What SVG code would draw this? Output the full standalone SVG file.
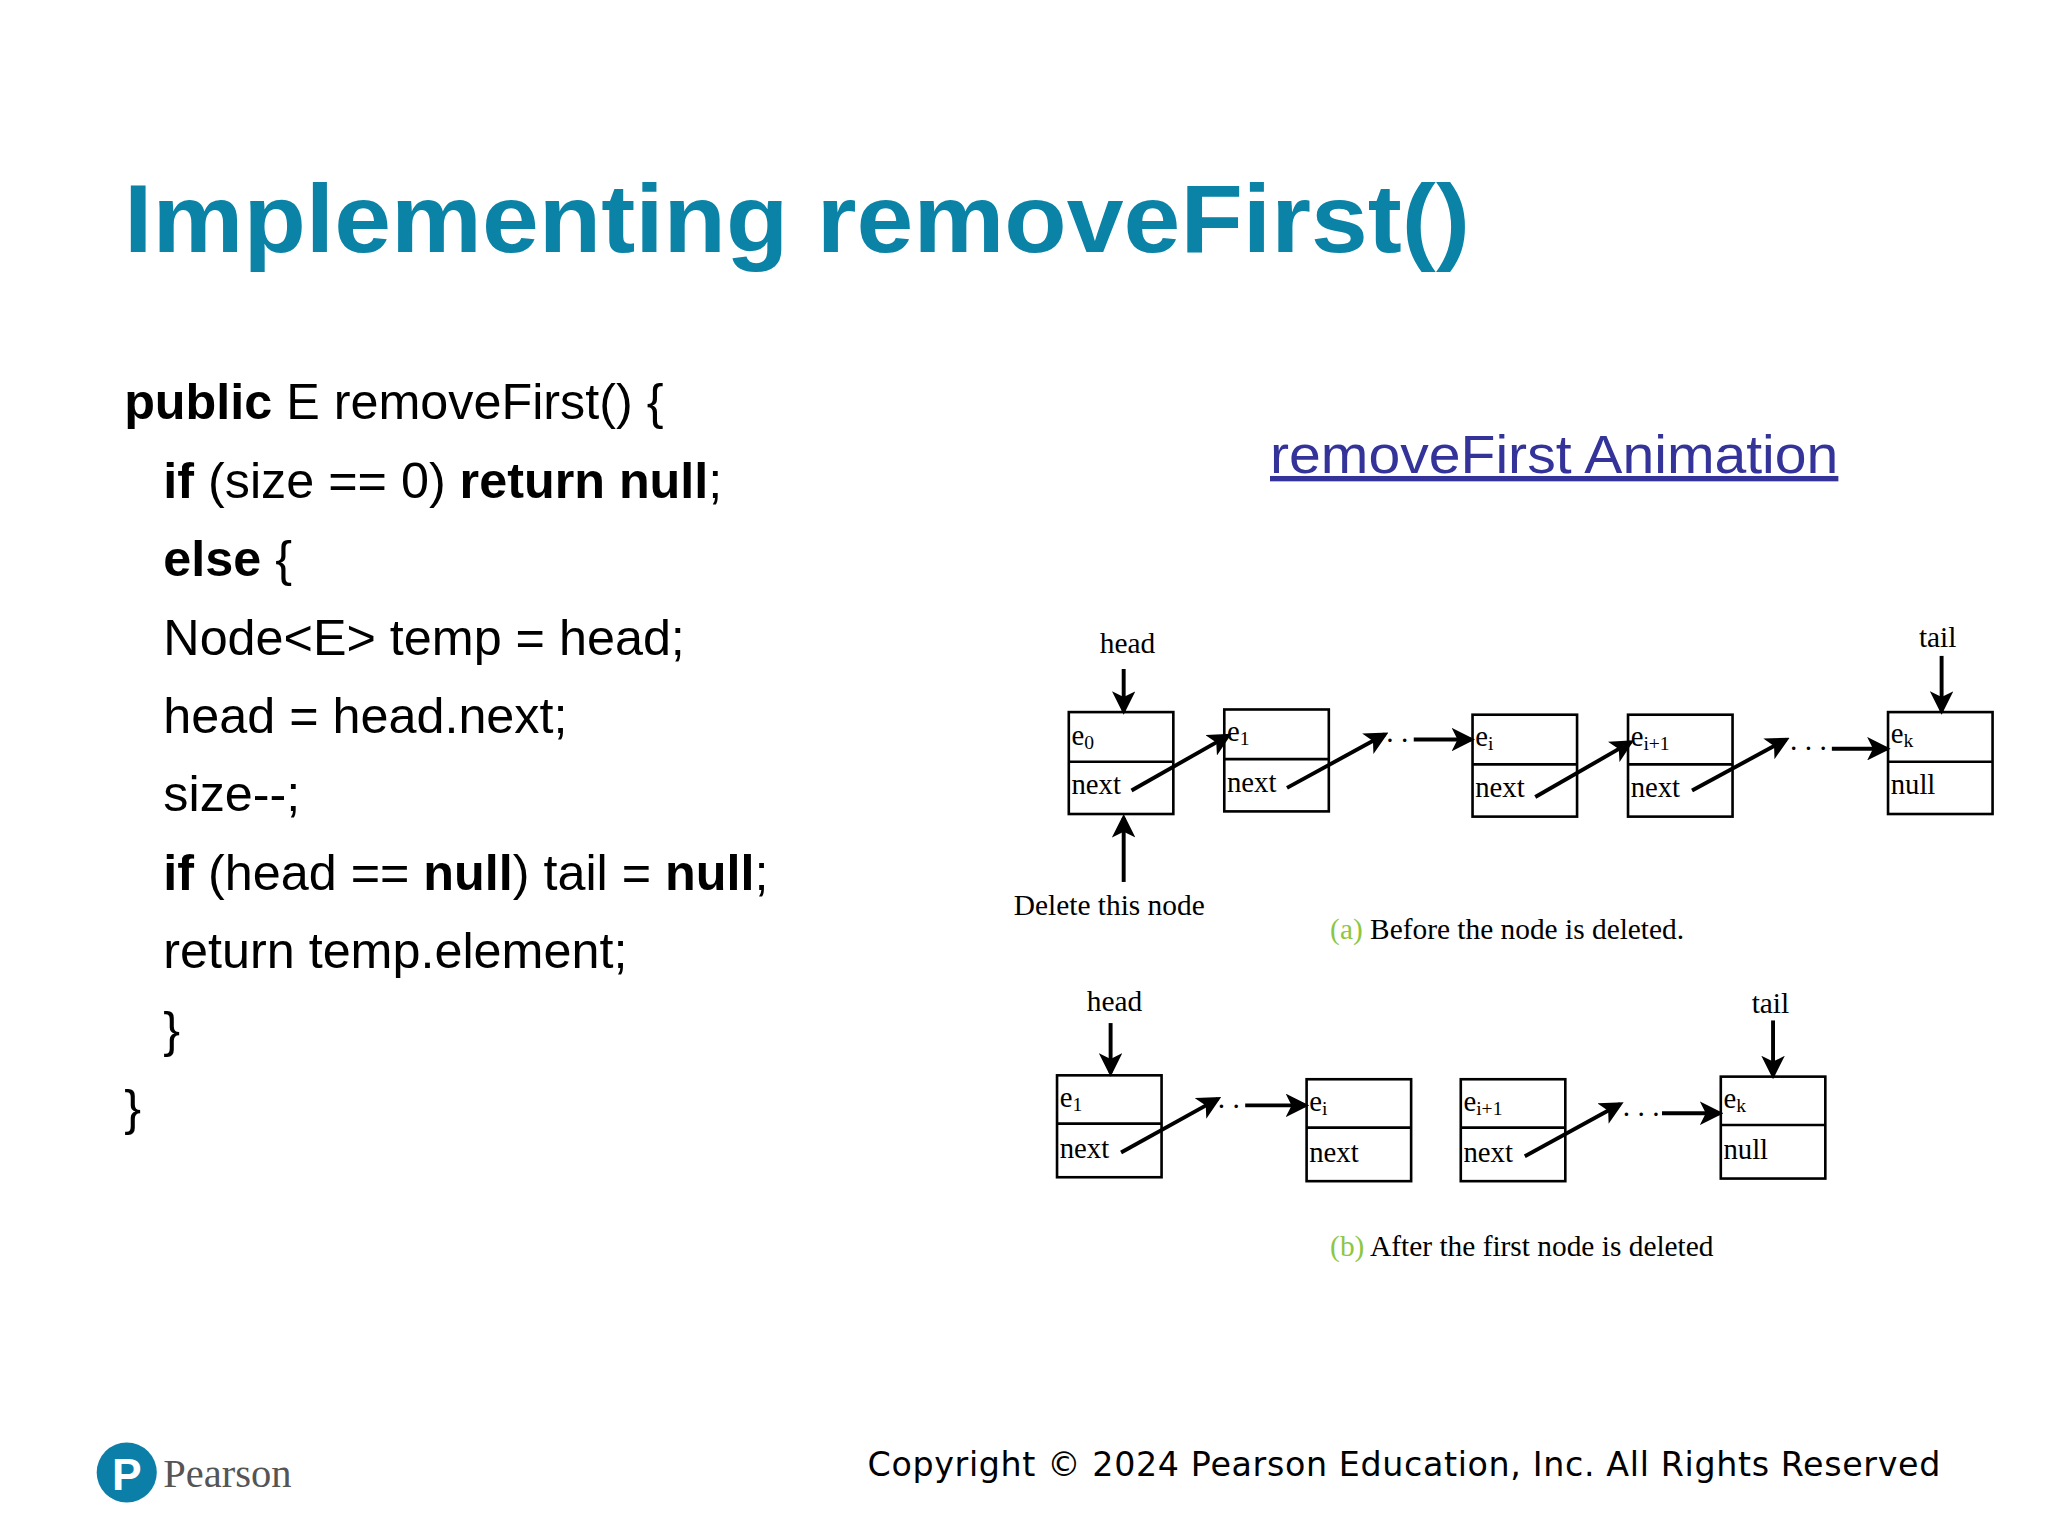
<svg xmlns="http://www.w3.org/2000/svg" width="2048" height="1536" viewBox="0 0 2048 1536">
<defs>
<marker id="ah" markerWidth="6" markerHeight="6" refX="5" refY="3" orient="auto" markerUnits="strokeWidth"><path d="M0,0 L6,3 L0,6 L1.5,3 Z" fill="#000"/></marker>
<style>
.code{font-family:"Liberation Sans",Arial,sans-serif;font-size:38.5px;fill:#000}
.b{font-weight:bold}
.s{font-family:"Liberation Serif","Times New Roman",serif;fill:#000}
.lbl{font-size:22.5px}
.el{font-size:22px}
.sub{font-size:15px}
.box{fill:#fff;stroke:#000;stroke-width:2}
.ar{stroke:#000;stroke-width:3;fill:none;marker-end:url(#ah)}
.g{fill:#8dc63f}
</style>
</defs>
<rect width="2048" height="1536" fill="#fff"/>
<g transform="scale(1.3066)">
<text x="95" y="193" font-family="Liberation Sans,Arial,sans-serif" font-weight="bold" font-size="74" fill="#0a83a6" textLength="1030" lengthAdjust="spacingAndGlyphs">Implementing removeFirst()</text>
<g id="code">
<text class="code" x="95" y="321"><tspan class="b">public</tspan> E removeFirst() {</text>
<text class="code" x="125" y="381"><tspan class="b">if</tspan> (size == 0) <tspan class="b">return null</tspan>;</text>
<text class="code" x="125" y="441"><tspan class="b">else</tspan> {</text>
<text class="code" x="125" y="501">Node&lt;E&gt; temp = head;</text>
<text class="code" x="125" y="561">head = head.next;</text>
<text class="code" x="125" y="621">size--;</text>
<text class="code" x="125" y="681"><tspan class="b">if</tspan> (head == <tspan class="b">null</tspan>) tail = <tspan class="b">null</tspan>;</text>
<text class="code" x="125" y="741">return temp.element;</text>
<text class="code" x="125" y="801">}</text>
<text class="code" x="95" y="861">}</text>
</g>
<g id="link">
<text x="972" y="362" font-family="Liberation Sans,Arial,sans-serif" font-size="41" fill="#333399" text-decoration="underline" textLength="435" lengthAdjust="spacingAndGlyphs">removeFirst Animation</text>
</g>
<g id="a-nodes">
<g id="a-e0"><rect class="box" x="818" y="545" width="80" height="78"/><line x1="818" y1="583" x2="898" y2="583" stroke="#000" stroke-width="2"/><text class="s el" x="820" y="570">e<tspan class="sub" dy="3">0</tspan></text><text class="s el" x="820" y="608">next</text></g>
<g id="a-e1"><rect class="box" x="937" y="543" width="80" height="78"/><line x1="937" y1="581" x2="1017" y2="581" stroke="#000" stroke-width="2"/><text class="s el" x="939" y="567">e<tspan class="sub" dy="3">1</tspan></text><text class="s el" x="939" y="606">next</text></g>
<g id="a-ei"><rect class="box" x="1127" y="547" width="80" height="78"/><line x1="1127" y1="585" x2="1207" y2="585" stroke="#000" stroke-width="2"/><text class="s el" x="1129" y="571">e<tspan class="sub" dy="3">i</tspan></text><text class="s el" x="1129" y="610">next</text></g>
<g id="a-ei1"><rect class="box" x="1246" y="547" width="80" height="78"/><line x1="1246" y1="585" x2="1326" y2="585" stroke="#000" stroke-width="2"/><text class="s el" x="1248" y="571">e<tspan class="sub" dy="3">i+1</tspan></text><text class="s el" x="1248" y="610">next</text></g>
<g id="a-ek"><rect class="box" x="1445" y="545" width="80" height="78"/><line x1="1445" y1="583" x2="1525" y2="583" stroke="#000" stroke-width="2"/><text class="s el" x="1447" y="569">e<tspan class="sub" dy="3">k</tspan></text><text class="s el" x="1447" y="608">null</text></g>
</g>
<g id="b-nodes">
<g id="b-e1"><rect class="box" x="809" y="823" width="80" height="78"/><line x1="809" y1="860" x2="889" y2="860" stroke="#000" stroke-width="2"/><text class="s el" x="811" y="847">e<tspan class="sub" dy="3">1</tspan></text><text class="s el" x="811" y="886">next</text></g>
<g id="b-ei"><rect class="box" x="1000" y="826" width="80" height="78"/><line x1="1000" y1="863" x2="1080" y2="863" stroke="#000" stroke-width="2"/><text class="s el" x="1002" y="850">e<tspan class="sub" dy="3">i</tspan></text><text class="s el" x="1002" y="889">next</text></g>
<g id="b-ei1"><rect class="box" x="1118" y="826" width="80" height="78"/><line x1="1118" y1="863" x2="1198" y2="863" stroke="#000" stroke-width="2"/><text class="s el" x="1120" y="850">e<tspan class="sub" dy="3">i+1</tspan></text><text class="s el" x="1120" y="889">next</text></g>
<g id="b-ek"><rect class="box" x="1317" y="824" width="80" height="78"/><line x1="1317" y1="861" x2="1397" y2="861" stroke="#000" stroke-width="2"/><text class="s el" x="1319" y="848">e<tspan class="sub" dy="3">k</tspan></text><text class="s el" x="1319" y="887">null</text></g>
</g>
<g id="connectors">
<line class="ar" x1="866" y1="605" x2="940" y2="563"/>
<line class="ar" x1="985" y1="603" x2="1060" y2="562"/>
<line class="ar" x1="1082" y1="566" x2="1126" y2="566"/>
<line class="ar" x1="1175" y1="610" x2="1248" y2="568"/>
<line class="ar" x1="1295" y1="605" x2="1367" y2="566"/>
<line class="ar" x1="1402" y1="573" x2="1444" y2="573"/>
<line class="ar" x1="860" y1="512" x2="860" y2="544"/>
<line class="ar" x1="1486" y1="502" x2="1486" y2="544"/>
<line class="ar" x1="860" y1="675" x2="860" y2="626"/>
<line class="ar" x1="858" y1="882" x2="932" y2="841"/>
<line class="ar" x1="953" y1="846" x2="999" y2="846"/>
<line class="ar" x1="1167" y1="885" x2="1240" y2="845"/>
<line class="ar" x1="1272" y1="852" x2="1316" y2="852"/>
<line class="ar" x1="850" y1="783" x2="850" y2="821"/>
<line class="ar" x1="1357" y1="781" x2="1357" y2="823"/>
</g>
<g id="labels">
<text class="s lbl" x="863" y="500" text-anchor="middle">head</text>
<text class="s lbl" x="1483" y="495" text-anchor="middle">tail</text>
<text class="s lbl" x="1061" y="568">. .</text>
<text class="s lbl" x="1370" y="574">. . .</text>
<text class="s lbl" x="849" y="700" text-anchor="middle">Delete this node</text>
<text class="s lbl" x="1018" y="719"><tspan class="g">(a)</tspan> Before the node is deleted.</text>
<text class="s lbl" x="853" y="774" text-anchor="middle">head</text>
<text class="s lbl" x="1355" y="775" text-anchor="middle">tail</text>
<text class="s lbl" x="932" y="848">. .</text>
<text class="s lbl" x="1242" y="854">. . .</text>
<text class="s lbl" x="1018" y="961"><tspan class="g">(b)</tspan> After the first node is deleted</text>
</g>
<g id="footer">
<circle cx="97" cy="1127" r="23" fill="#0b7fa8"/>
<text x="97" y="1140" text-anchor="middle" font-family="Liberation Sans,Arial,sans-serif" font-weight="bold" font-size="34" fill="#fff">P</text>
<text x="125" y="1138" font-family="Liberation Serif,serif" font-size="31" fill="#555">Pearson</text>
<text x="664" y="1130" font-family="DejaVu Sans,sans-serif" font-size="25.5" fill="#000" textLength="821">Copyright © 2024 Pearson Education, Inc. All Rights Reserved</text>
</g>
</g>
</svg>
